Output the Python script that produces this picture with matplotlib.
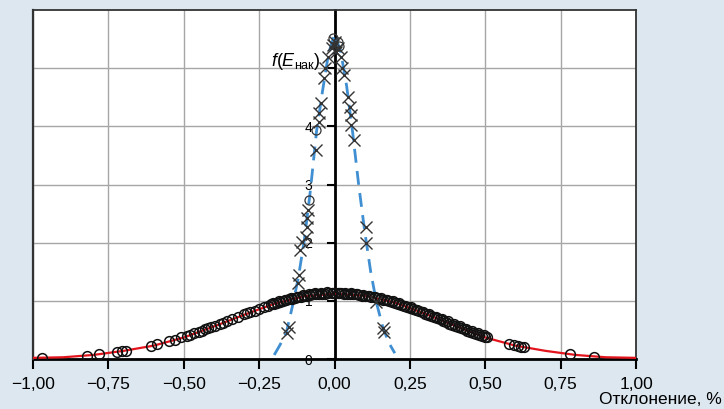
import matplotlib
matplotlib.use("Agg")
import matplotlib.pyplot as plt
import numpy as np

plt.rcParams['font.family'] = ['Liberation Sans', 'DejaVu Sans']
plt.rcParams['mathtext.fontset'] = 'custom'
plt.rcParams['mathtext.rm'] = 'Liberation Sans'
plt.rcParams['mathtext.it'] = 'Liberation Sans:italic'

# wide distribution: smooth red curve
wide_x = [-1.0, -0.9, -0.8, -0.7, -0.6, -0.5, -0.4, -0.3, -0.2, -0.1, 0.0,
          0.1, 0.2, 0.3, 0.4, 0.5, 0.6, 0.7, 0.8, 0.9, 1.0]
wide_y = [0.02, 0.03, 0.07, 0.14, 0.23, 0.37, 0.56, 0.76, 0.95, 1.08, 1.12,
          1.09, 0.97, 0.78, 0.57, 0.37, 0.23, 0.14, 0.07, 0.03, 0.02]

# wide distribution: measured points (circles)
circ_x = [-0.97, -0.82, -0.78, -0.72, -0.705, -0.69, -0.61, -0.59, -0.55, -0.53,
          -0.51, -0.49, -0.48, -0.465, -0.45, -0.44, -0.43, -0.42, -0.41, -0.395,
          -0.38, -0.37, -0.355, -0.34, -0.32, -0.30, -0.29, -0.28, -0.265, -0.25,
          -0.235, -0.22, -0.21, -0.20, -0.19, -0.18, -0.17, -0.16, -0.15, -0.14,
          -0.13, -0.12, -0.11, -0.10, -0.09, -0.08, -0.07, -0.06, -0.05, -0.04,
          -0.03, -0.02, -0.01, 0.00, 0.01, 0.02, 0.03, 0.04, 0.05, 0.06,
          0.07, 0.08, 0.09, 0.10, 0.11, 0.12, 0.13, 0.14, 0.15, 0.16,
          0.17, 0.18, 0.19, 0.20, 0.21, 0.22, 0.23, 0.24, 0.25, 0.26,
          0.27, 0.28, 0.29, 0.30, 0.31, 0.32, 0.33, 0.34, 0.35, 0.36,
          0.37, 0.38, 0.39, 0.40, 0.41, 0.42, 0.43, 0.44, 0.45, 0.46,
          0.47, 0.48, 0.49, 0.50, 0.505, 0.58, 0.595, 0.61, 0.62, 0.63,
          0.78, 0.86]
circ_y = [0.02, 0.05, 0.08, 0.12, 0.13, 0.14, 0.22, 0.25, 0.31, 0.33,
          0.37, 0.40, 0.42, 0.44, 0.47, 0.49, 0.51, 0.53, 0.55, 0.57,
          0.60, 0.62, 0.66, 0.68, 0.73, 0.77, 0.79, 0.81, 0.83, 0.86,
          0.89, 0.92, 0.94, 0.95, 0.97, 0.98, 1.00, 1.01, 1.03, 1.04,
          1.05, 1.06, 1.07, 1.08, 1.09, 1.10, 1.11, 1.11, 1.12, 1.12,
          1.12, 1.13, 1.13, 1.13, 1.13, 1.13, 1.12, 1.12, 1.12, 1.11,
          1.11, 1.10, 1.09, 1.08, 1.08, 1.07, 1.06, 1.05, 1.04, 1.02,
          1.01, 0.99, 0.98, 0.96, 0.95, 0.93, 0.91, 0.90, 0.88, 0.86,
          0.84, 0.82, 0.80, 0.78, 0.76, 0.74, 0.72, 0.70, 0.68, 0.66,
          0.63, 0.61, 0.59, 0.57, 0.55, 0.53, 0.51, 0.49, 0.47, 0.45,
          0.43, 0.42, 0.40, 0.38, 0.37, 0.26, 0.24, 0.22, 0.21, 0.20,
          0.08, 0.04]
# second, overlapping layer of circles in the dense middle band
circ2_x = [-0.205, -0.185, -0.165, -0.145, -0.125, -0.105, -0.085, -0.065, -0.045,
           -0.025, -0.005, 0.015, 0.035, 0.055, 0.075, 0.095, 0.115, 0.135, 0.155,
           0.175, 0.195, 0.215, 0.235, 0.255, 0.275, 0.295, 0.315, 0.335, 0.355,
           0.375, 0.395, 0.415, 0.435, 0.455, 0.475, 0.495]
circ2_y = [0.96, 0.99, 1.02, 1.05, 1.07, 1.10, 1.12, 1.13, 1.14,
           1.15, 1.14, 1.14, 1.13, 1.13, 1.12, 1.10, 1.09, 1.07, 1.05,
           1.02, 0.99, 0.96, 0.92, 0.89, 0.85, 0.81, 0.77, 0.73, 0.69,
           0.65, 0.61, 0.56, 0.52, 0.48, 0.44, 0.41]

# narrow distribution: blue dashed curve
narrow_x = [-0.20, -0.18, -0.16, -0.14, -0.12, -0.10, -0.08, -0.06, -0.04, -0.02, 0.0,
            0.02, 0.04, 0.06, 0.08, 0.10, 0.12, 0.14, 0.16, 0.18, 0.20]
narrow_y = [0.07, 0.25, 0.45, 0.90, 1.40, 2.05, 2.90, 3.90, 4.60, 5.25, 5.58,
            5.30, 4.70, 3.90, 3.00, 2.20, 1.50, 0.95, 0.55, 0.28, 0.10]

# narrow distribution: measured points (crosses)
cross_x = [-0.023, -0.030, -0.036, -0.046, -0.050, -0.052, -0.063, -0.088, -0.090,
           -0.092, -0.094, -0.107, -0.113, -0.118, -0.122, -0.152, -0.157,
           0.020, 0.026, 0.030, 0.046, 0.050, 0.053, 0.056, 0.063, 0.103, 0.103,
           0.136, 0.160, 0.163,
           0.000, -0.010, 0.010, 0.005, -0.005]
cross_y = [5.19, 5.00, 4.83, 4.40, 4.23, 4.07, 3.59, 2.56, 2.42,
           2.27, 2.10, 2.02, 1.87, 1.44, 1.30, 0.55, 0.44,
           5.19, 5.00, 4.88, 4.50, 4.33, 4.19, 4.02, 3.76, 2.27, 2.00,
           0.98, 0.53, 0.46,
           5.45, 5.35, 5.35, 5.28, 5.40]
# narrow distribution: a few circles near the peak
ncirc_x = [-0.005, 0.012, 0.016, -0.063, -0.086]
ncirc_y = [5.52, 5.45, 5.38, 3.93, 2.73]

xticks = [-1.0, -0.75, -0.5, -0.25, 0.0, 0.25, 0.5, 0.75, 1.0]
xtick_labels = ['\u22121,00', '\u22120,75', '\u22120,50', '\u22120,25', '0,00',
                '0,25', '0,50', '0,75', '1,00']
yticks = [0, 1, 2, 3, 4, 5]
ytick_labels = ['0', '1', '2', '3', '4', '']

bg = '#dce7f0'
fig = plt.figure(figsize=(7.24, 4.09), dpi=100, facecolor=bg)
ax = fig.add_axes([0.0456, 0.1222, 0.8329, 0.8533])
ax.set_facecolor('white')
ax.set_xlim(-1, 1)
ax.set_ylim(0, 6)

ax.set_xticks(xticks)
ax.set_xticklabels(xtick_labels, fontsize=12.5)
ax.set_yticks(yticks)
ax.set_yticklabels(ytick_labels, fontsize=13)
ax.grid(True, color='#a6a6a6', lw=1.0)
ax.set_axisbelow(True)

ax.spines['left'].set_position(('data', 0))
ax.spines['left'].set_linewidth(2)
ax.spines['left'].set_color('black')
ax.spines['bottom'].set_linewidth(2)
ax.spines['bottom'].set_color('black')
for s in ['top', 'right']:
    ax.spines[s].set_linewidth(1.3)
    ax.spines[s].set_color('#333333')
ax.axvline(-1, color='#333333', lw=1.6, clip_on=False, zorder=3)
ax.tick_params(axis='x', direction='out', length=7, width=1.5, pad=6, colors='black')
ax.tick_params(axis='y', direction='out', length=6, width=1.5, pad=10, colors='black')

ax.plot(wide_x, wide_y, color='#e3141c', lw=1.6, zorder=4)
ax.plot(circ_x, circ_y, ls='none', marker='o', ms=7, mfc='none',
        mec='#111111', mew=1.1, zorder=5)
ax.plot(circ2_x, circ2_y, ls='none', marker='o', ms=7, mfc='none',
        mec='#111111', mew=1.1, zorder=5)

ax.plot(narrow_x, narrow_y, color='#3f8fd2', lw=2, ls=(0, (5, 3)), zorder=4)
ax.plot(cross_x, cross_y, ls='none', marker='x', ms=8.5, mec='#333333', mew=1.0, zorder=5)
ax.plot(ncirc_x, ncirc_y, ls='none', marker='o', ms=6.5, mfc='none',
        mec='#333333', mew=0.9, zorder=5)

ax.text(-0.045, 5.12, r'$f(E_{\mathrm{нак}})$', ha='right', va='center',
        fontsize=13, zorder=6)
fig.text(0.997, 0.024, 'Отклонение, %', ha='right', va='center', fontsize=12.5)

fig.savefig('out.png', dpi=100, facecolor=bg)
